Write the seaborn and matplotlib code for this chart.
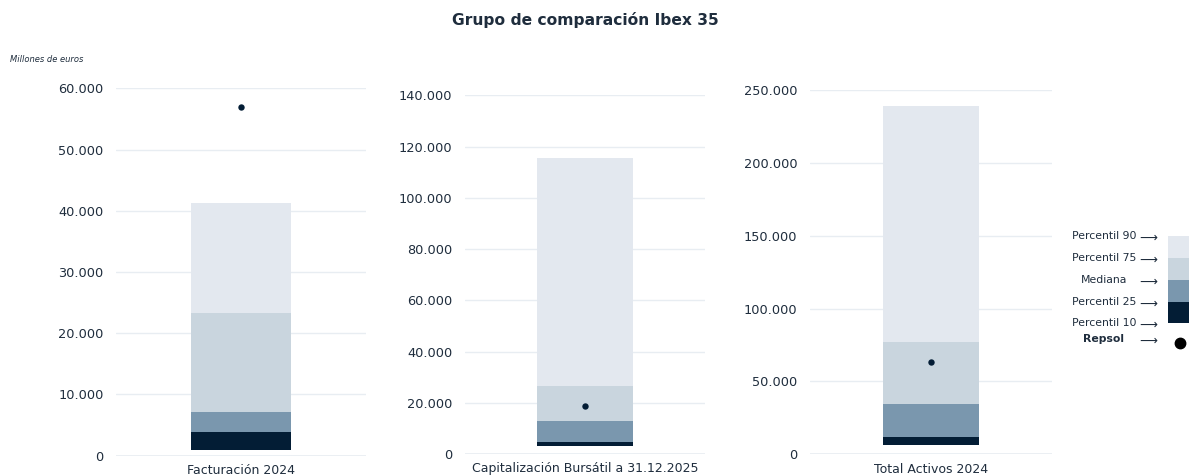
import seaborn as sns
import matplotlib.pyplot as plt
from matplotlib.patches import Rectangle

# Datos (millones de euros)
categorias = ["Facturación 2024", "Capitalización Bursátil a 31.12.2025", "Total Activos 2024"]
p10 = [900, 3100, 6600]
p25 = [3900, 4600, 11900]
mediana = [7200, 12900, 34500]
p75 = [23300, 26700, 76900]
p90 = [41300, 115400, 239300]
repsol = [56900, 18700, 63400]
ymax = [60000, 140000, 250000]
ypaso = [10000, 20000, 50000]

leyenda = ["Percentil 90", "Percentil 75", "Mediana", "Percentil 25", "Percentil 10"]

C90 = "#e3e8ef"
C75 = "#c9d5de"
CMED = "#7a97ae"
C25 = "#031d35"
TEXTO = "#1f2d3d"
REJILLA = "#e8edf2"

sns.set_style("white")
plt.rcParams["font.family"] = ["DejaVu Sans"]

W, H = 1189, 475
fig = plt.figure(figsize=(W / 100, H / 100), dpi=100)

# posiciones de los ejes en píxeles: (izq, arriba, ancho, abajo)
cajas = [(116, 88.3, 250, 455.7), (465, 95.3, 240, 454.0), (810, 90.0, 242, 454.3)]

for i, cat in enumerate(categorias):
    x0, top, w, bot = cajas[i]
    ax = fig.add_axes([x0 / W, 1 - bot / H, w / W, (bot - top) / H])
    ax.set_axisbelow(True)
    capas = [(p90, C90), (p75, C75), (mediana, CMED), (p25, C25), (p10, "white")]
    for valores, color in capas:
        sns.barplot(x=[cat], y=[valores[i]], color=color, saturation=1,
                    width=0.4, linewidth=0, ax=ax)
    sns.stripplot(x=[cat], y=[repsol[i]], color=C25, size=4.6, jitter=False,
                  zorder=5, ax=ax)
    ax.axhline(0, color=REJILLA, lw=1.2, zorder=4)
    ax.set_xlim(-0.5, 0.5)
    ax.set_ylim(0, ymax[i])
    ticks = list(range(0, ymax[i] + 1, ypaso[i]))
    ax.set_yticks(ticks)
    ax.set_yticklabels([f"{t:,}".replace(",", ".") for t in ticks])
    ax.yaxis.grid(True, color=REJILLA, lw=1)
    ax.xaxis.grid(False)
    for s in ax.spines.values():
        s.set_visible(False)
    ax.tick_params(axis="y", length=0, pad=9, labelsize=9.3, labelcolor=TEXTO)
    ax.tick_params(axis="x", length=0, pad=6, labelsize=9, labelcolor=TEXTO)
    ax.set_xlabel("")
    ax.set_ylabel("")

fig.text(585 / W, 1 - 20 / H, "Grupo de comparación Ibex 35", ha="center", va="center",
         fontsize=11.2, fontweight="bold", color=TEXTO)
fig.text(10 / W, 1 - 60 / H, "Millones de euros", ha="left", va="center",
         fontsize=6, style="italic", color=TEXTO)

# Leyenda
colores = [C90, C75, CMED, C25]
bordes = [236, 258, 280, 302, 323]
for k, c in enumerate(colores):
    fig.patches.append(Rectangle((1168 / W, 1 - bordes[k + 1] / H), 30 / W,
                                 (bordes[k + 1] - bordes[k]) / H,
                                 transform=fig.transFigure, color=c, lw=0))
for k, lab in enumerate(leyenda):
    y = 1 - bordes[k] / H
    fig.text(1104 / W, y, lab, ha="center", va="center", fontsize=7.8, color=TEXTO)
    fig.text(1148 / W, y - 2 / H, "⟶", ha="center", va="center", fontsize=9, color=TEXTO)
fig.text(1104 / W, 1 - 339 / H, "Repsol", ha="center", va="center", fontsize=7.8,
         fontweight="bold", color=TEXTO)
fig.text(1148 / W, 1 - 341 / H, "⟶", ha="center", va="center", fontsize=9, color=TEXTO)
fig.add_artist(plt.Line2D([1180 / W], [1 - 343 / H], marker="o", markersize=7.5,
                          color="black", transform=fig.transFigure))

fig.savefig("out.png", dpi=100)
